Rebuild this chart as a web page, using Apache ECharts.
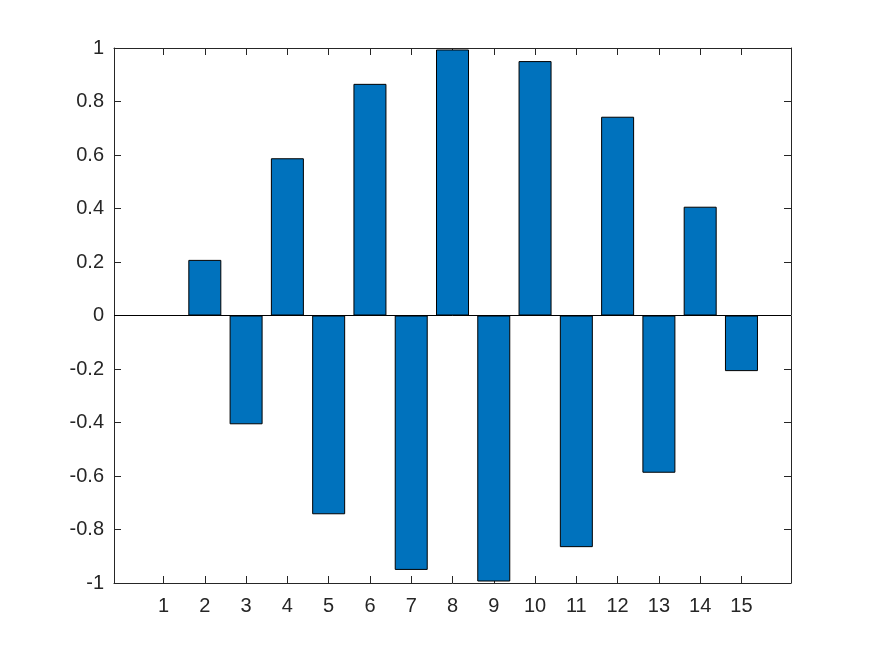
<!DOCTYPE html>
<html>
<head>
<meta charset="utf-8">
<script src="https://cdn.jsdelivr.net/npm/echarts@6/dist/echarts.min.js"></script>
<style>html,body{margin:0;padding:0;background:#fff}#c{width:875px;height:656px}</style>
</head>
<body>
<div id="c"></div>
<script>
const categories = [1, 2, 3, 4, 5, 6, 7, 8, 9, 10, 11, 12, 13, 14, 15];
const values = [0, 0.2079, -0.4067, 0.5878, -0.7431, 0.8660, -0.9511, 0.9945, -0.9945, 0.9511, -0.8660, 0.7431, -0.5878, 0.4067, -0.2079];
const yTicks = [-1, -0.8, -0.6, -0.4, -0.2, 0, 0.2, 0.4, 0.6, 0.8, 1];

const textColor = '#262626';
const font = 'Liberation Sans, Arial, sans-serif';
const chart = echarts.init(document.getElementById('c'));
const tickStyle = { show: true, inside: true, length: 7, lineStyle: { color: textColor, width: 1 } };
const lineStyle = { show: true, onZero: false, lineStyle: { color: textColor, width: 1 } };

chart.setOption({
  animation: false,
  grid: { left: 114, top: 48, right: 84, bottom: 73, containLabel: false },
  xAxis: [
    {
      type: 'value', position: 'bottom', min: -0.2, max: 16.2,
      axisLine: lineStyle,
      axisTick: Object.assign({ customValues: categories }, tickStyle),
      axisLabel: { customValues: categories, color: textColor, fontSize: 20, fontFamily: font, margin: 13 },
      splitLine: { show: false }
    },
    {
      type: 'value', position: 'top', min: -0.2, max: 16.2,
      axisLine: lineStyle,
      axisTick: Object.assign({ customValues: categories }, tickStyle),
      axisLabel: { show: false },
      splitLine: { show: false }
    }
  ],
  yAxis: [
    {
      type: 'value', position: 'left', min: -1, max: 1, interval: 0.2,
      axisLine: lineStyle,
      axisTick: Object.assign({ customValues: yTicks }, tickStyle),
      axisLabel: { customValues: yTicks, color: textColor, fontSize: 20, fontFamily: font, margin: 10,
        formatter: v => String(Math.round(v * 10) / 10) },
      splitLine: { show: false }
    },
    {
      type: 'value', position: 'right', min: -1, max: 1, interval: 0.2,
      axisLine: lineStyle,
      axisTick: Object.assign({ customValues: yTicks }, tickStyle),
      axisLabel: { show: false },
      splitLine: { show: false }
    }
  ],
  series: [{
    type: 'bar',
    xAxisIndex: 0, yAxisIndex: 0,
    data: categories.map((c, i) => [c, values[i]]),
    barWidth: 33,
    itemStyle: { color: '#0072BD', borderColor: '#000', borderWidth: 1 },
    markLine: {
      silent: true, symbol: 'none', label: { show: false },
      lineStyle: { color: '#000', width: 1, type: 'solid' },
      data: [{ yAxis: 0 }]
    }
  }]
});
</script>
</body>
</html>
